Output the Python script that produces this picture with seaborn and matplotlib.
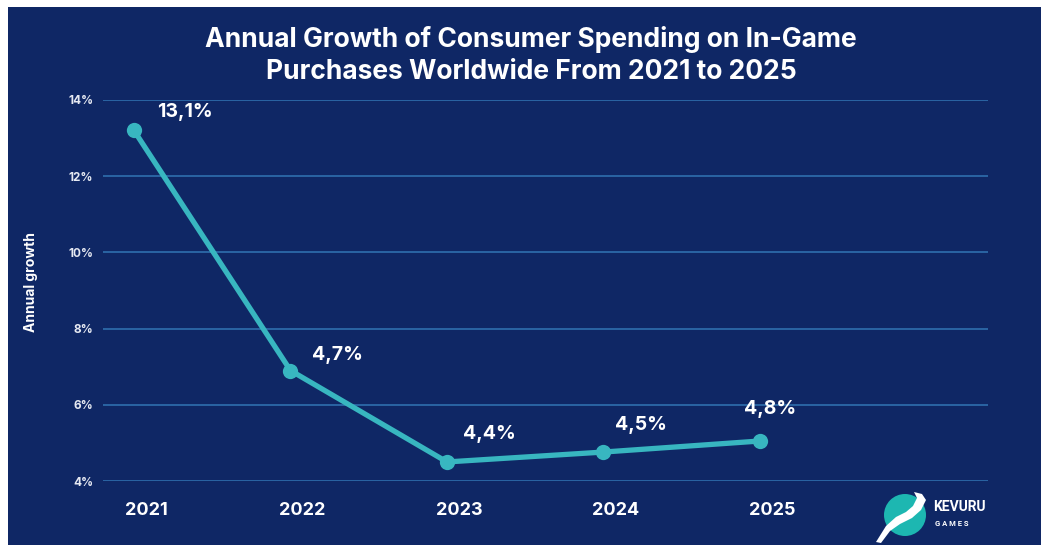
import matplotlib
matplotlib.use("Agg")
import matplotlib.pyplot as plt
import matplotlib.transforms as mtransforms
import seaborn as sns
import pandas as pd
from matplotlib.patches import Circle, Rectangle, Polygon

# ---- data ----
years = ["2021", "2022", "2023", "2024", "2025"]
growth = [13.2, 6.9, 4.5, 4.76, 5.05]          # plotted positions (%)
value_labels = ["13,1%", "4,7%", "4,4%", "4,5%", "4,8%"]
y_ticks = [4, 6, 8, 10, 12, 14]
y_tick_labels = ["4%", "6%", "8%", "10%", "12%", "14%"]

title = "Annual Growth of Consumer Spending on In-Game\nPurchases Worldwide From 2021 to 2025"
y_title = "Annual growth"

NAVY = "#0f2765"
GRID = "#2f6fae"
TEAL = "#38b6c0"

sns.set_theme(style="dark")
plt.rcParams["font.family"] = ["Inter", "DejaVu Sans"]

W, H = 1041, 545
fig = plt.figure(figsize=(W / 100, H / 100), dpi=100)
fig.patch.set_facecolor("white")
# navy panel
fig.patches.append(Rectangle((8 / W, 0), 1 - 8 / W, 1 - 7 / H, transform=fig.transFigure,
                             facecolor=NAVY, edgecolor="none", zorder=-5))

ax = fig.add_axes([103 / W, 64 / H, 885 / W, 381 / H])
ax.set_zorder(2)
ax.set_facecolor("none")

df = pd.DataFrame({"year": years, "growth": growth})
df["pos"] = range(len(df))
sns.lineplot(data=df, x="pos", y="growth", ax=ax, color=TEAL, linewidth=3.8,
             marker="o", markersize=11, markeredgewidth=0, zorder=3)

ax.set_xlim(-0.198, 5.457)
ax.set_ylim(4, 14)
ax.set_yticks(y_ticks)
ax.set_yticklabels(y_tick_labels)
ax.set_xticks(df["pos"])
ax.set_xticklabels(years)
ax.tick_params(axis="y", length=0, pad=7, labelsize=8.5, labelcolor="#e6e9f2")
ax.tick_params(axis="x", length=0, pad=15, labelsize=13, labelcolor="white")
shift = mtransforms.ScaledTranslation(12 / 100, 0, fig.dpi_scale_trans)
for lab in ax.get_xticklabels():
    lab.set_fontweight("bold")
    lab.set_transform(lab.get_transform() + shift)
for lab in ax.get_yticklabels():
    lab.set_fontweight("bold")
ax.grid(axis="y", color=GRID, linewidth=1.2)
ax.grid(axis="x", visible=False)
ax.set_axisbelow(True)
for s in ax.spines.values():
    s.set_visible(False)
ax.set_xlabel("")
ax.set_ylabel("")

offsets = [(51, 18), (47, 16), (42, 28), (37, 27), (10, 32)]
for i, (lab, off) in enumerate(zip(value_labels, offsets)):
    ax.annotate(lab, (i, growth[i]), xytext=off, textcoords="offset pixels",
                ha="center", va="center", color="white", fontsize=14, fontweight="bold")

fig.text(531 / W, 1 - 55 / H, title, ha="center", va="center", color="white",
         fontsize=19, fontweight="bold", linespacing=1.3)
fig.text(31 / W, 1 - 282 / H, y_title, ha="center", va="center", rotation=90,
         color="white", fontsize=10, fontweight="bold")

# logo
fig.patches.append(Circle((9.05, 0.30), 0.21, transform=fig.dpi_scale_trans,
                          facecolor="#1db7b1", edgecolor="none", zorder=1))
deer = [(876, 542), (886, 526), (896, 517), (906, 512), (913, 506), (917, 498),
        (914, 492), (922, 494), (926, 500), (921, 510), (912, 518), (900, 524),
        (890, 531), (881, 543)]
fig.patches.append(Polygon([(x / 100, (H - y) / 100) for x, y in deer], closed=True,
                           transform=fig.dpi_scale_trans, facecolor="white",
                           edgecolor="none", zorder=2))
fig.text(933 / W, 1 - 507 / H, "KEVURU", ha="left", va="center", color="white",
         fontsize=10, fontweight="bold", family=["Roboto", "DejaVu Sans"])
fig.text(935 / W, 1 - 523 / H, "G A M E S", ha="left", va="center", color="white",
         fontsize=5.5, fontweight="bold", family=["Roboto", "DejaVu Sans"])

fig.savefig("out.png", dpi=100, facecolor=fig.get_facecolor())
